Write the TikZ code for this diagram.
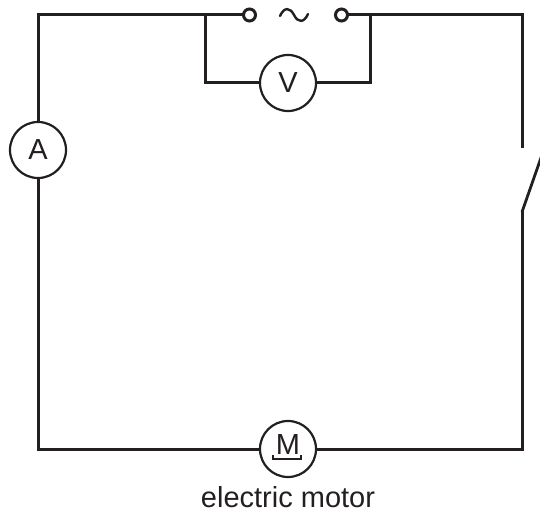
\documentclass[tikz,border=0pt]{standalone}
\usepackage{fontspec}
\setmainfont{Liberation Sans}
\definecolor{ink}{HTML}{231F20}
\begin{document}
\begin{tikzpicture}[x=1pt,y=-1pt,
  wire/.style={draw=ink,line width=3pt,line cap=rect,line join=miter},
  meter/.style={circle,draw=ink,line width=2.2pt,minimum size=56pt,inner sep=0pt,
    font=\fontsize{29}{29}\selectfont,text=ink},
  term/.style={circle,draw=ink,line width=3pt,minimum size=12pt,inner sep=0pt,fill=white},
  lab/.style={font=\fontsize{29}{29}\selectfont,text=ink,inner sep=0pt}]
\useasboundingbox (0,0) rectangle (540,516);
\begin{scope}
\clip (0,0) rectangle (540,516);
% corners and junctions
\coordinate (tl) at (38,15);
\coordinate (tr) at (522,15);
\coordinate (bl) at (38,449);
\coordinate (br) at (522,449);
\coordinate (jl) at (205,15);
\coordinate (jr) at (370,15);
\coordinate (vl) at (205,83);
\coordinate (vr) at (370,83);
\coordinate (sw1) at (522,212);
\coordinate (swtip) at (543,152);
\coordinate (sw2) at (522,146);
% meters
\node[meter] (A) at (38,150) {A};
\node[meter] (V) at (288,83) {V};
\node[meter] (mot) at (288,449) {};
\node[lab] (mlab) at (288,445) {M};
\node[term] (t1) at (249.5,15) {};
\node[term] (t2) at (341.5,15) {};
% wires
\draw[wire] (A.north) -- (tl) -- (t1.west);
\draw[wire] (t2.east) -- (tr) -- (sw2);
\draw[wire] (A.south) -- (bl) -- (mot.west);
\draw[wire] (mot.east) -- (br) -- (sw1);
\draw[draw=ink,line width=2.8pt,line cap=butt] (sw1) -- (swtip);
\draw[wire] (jl) -- (vl) -- (V.west);
\draw[wire] (V.east) -- (vr) -- (jr);
% AC source symbol
\draw[draw=ink,line width=2.4pt,line cap=round] (280,16) .. controls (284,7) and (290,7) .. (294,15) .. controls (298,23) and (304,23) .. (308,14);
% motor underline
\draw[draw=ink,line width=1.8pt] (273,455) -- (273,459) -- (301,459) -- (301,455);
% caption
\node[lab,anchor=base] (cap) at (288,507) {electric motor};
\end{scope}
\end{tikzpicture}
\end{document}
